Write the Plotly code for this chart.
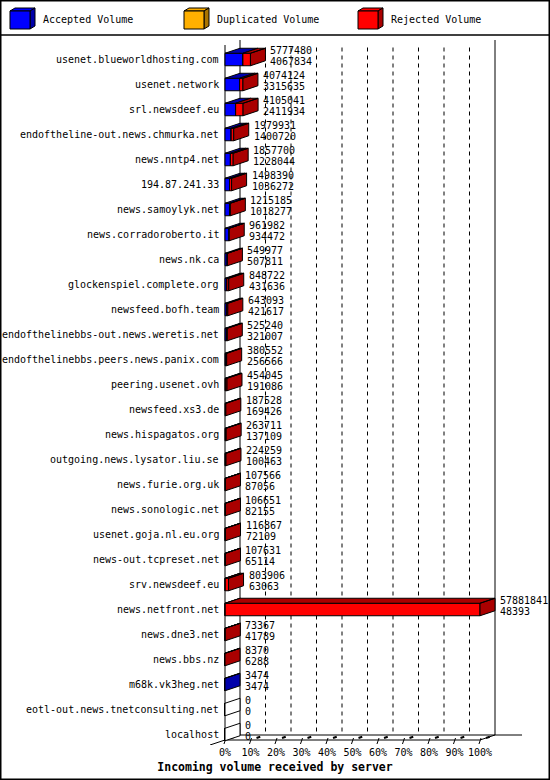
import plotly.graph_objects as go

# ---------------- data ----------------
servers = [
    "usenet.blueworldhosting.com", "usenet.network", "srl.newsdeef.eu",
    "endoftheline-out.news.chmurka.net", "news.nntp4.net", "194.87.241.33",
    "news.samoylyk.net", "news.corradoroberto.it", "news.nk.ca",
    "glockenspiel.complete.org", "newsfeed.bofh.team",
    "endofthelinebbs-out.news.weretis.net", "endofthelinebbs.peers.news.panix.com",
    "peering.usenet.ovh", "newsfeed.xs3.de", "news.hispagatos.org",
    "outgoing.news.lysator.liu.se", "news.furie.org.uk", "news.sonologic.net",
    "usenet.goja.nl.eu.org", "news-out.tcpreset.net", "srv.newsdeef.eu",
    "news.netfront.net", "news.dne3.net", "news.bbs.nz", "m68k.vk3heg.net",
    "eotl-out.news.tnetconsulting.net", "localhost",
]
total_volume = [
    5777480, 4074124, 4105041, 1979931, 1857700, 1498390, 1215185, 961982,
    549977, 848722, 643093, 525240, 380552, 454045, 187528, 263711, 224259,
    107566, 106651, 116867, 107631, 803906, 57881841, 73367, 8370, 3474, 0, 0,
]
accepted_volume = [
    4067834, 3315635, 2411934, 1400720, 1228044, 1036272, 1018277, 934472,
    507811, 431636, 421617, 321007, 256566, 191086, 169426, 137109, 100463,
    87056, 82155, 72109, 65114, 63063, 48393, 41789, 6288, 3474, 0, 0,
]
duplicated_volume = [0, 0, 0, 0, 0, 0, 0, 0, 0, 0, 0, 0, 0, 0,
                     0, 0, 0, 0, 0, 0, 0, 0, 0, 0, 0, 0, 0, 0]
tick_values = [0, 10, 20, 30, 40, 50, 60, 70, 80, 90, 100]
tick_labels = ["0%", "10%", "20%", "30%", "40%", "50%", "60%", "70%", "80%", "90%", "100%"]
series_names = ["Accepted Volume", "Duplicated Volume", "Rejected Volume"]
title_text = "Incoming volume received by server"

# ---------------- styles ----------------
FRONT = {"acc": "#0000ff", "dup": "#ffb000", "rej": "#ff0000"}
DARK = {"acc": "#0000aa", "dup": "#aa7400", "rej": "#aa0000"}
FONT = "DejaVu Sans Mono"

W, H = 550, 780
ML, MR, MT, MB = 200, 20, 40, 35
PX_PER_PCT = 2.55          # pixels per percent on the front face
ZERO_PX = 225              # pixel of 0 %
ROW_PX = 25                # pixels per row
ROW0_PX = 59.5             # pixel centre of first row
x_range = [(ML - ZERO_PX) / PX_PER_PCT, (W - MR - ZERO_PX) / PX_PER_PCT]
y_range = [(H - MB - ROW0_PX) / ROW_PX, (MT - ROW0_PX) / ROW_PX]

DX = 15 / PX_PER_PCT       # 3D depth, horizontal (in %)
DY = 5 / ROW_PX            # 3D depth, vertical (in rows)
HB = 0.25                  # half bar height (rows)

n = len(servers)
rows = list(range(n))
vmax = max(total_volume)
rejected_volume = [t - a - d for t, a, d in zip(total_volume, accepted_volume, duplicated_volume)]
acc_pct = [v / vmax * 100 for v in accepted_volume]
dup_pct = [v / vmax * 100 for v in duplicated_volume]
rej_pct = [v / vmax * 100 for v in rejected_volume]
tot_pct = [v / vmax * 100 for v in total_volume]

fig = go.Figure()

# front faces (bars)
fig.add_trace(go.Bar(y=rows, x=acc_pct, base=[0] * n, orientation="h", width=2 * HB,
                     name=series_names[0], marker=dict(color=FRONT["acc"], line=dict(color="black", width=1)),
                     hoverinfo="skip"))
fig.add_trace(go.Bar(y=rows, x=dup_pct, base=acc_pct, orientation="h", width=2 * HB,
                     name=series_names[1], marker=dict(color=FRONT["dup"], line=dict(color="black", width=1)),
                     hoverinfo="skip"))
fig.add_trace(go.Bar(y=rows, x=rej_pct, base=[a + d for a, d in zip(acc_pct, dup_pct)], orientation="h",
                     width=2 * HB, name=series_names[2],
                     marker=dict(color=FRONT["rej"], line=dict(color="black", width=1)),
                     hoverinfo="skip"))

# 3D top and side faces, built from the same values
polys = {"acc": ([], []), "dup": ([], []), "rej": ([], []), "none": ([], [])}
for i in rows:
    segs = [("acc", 0, acc_pct[i]),
            ("dup", acc_pct[i], acc_pct[i] + dup_pct[i]),
            ("rej", acc_pct[i] + dup_pct[i], tot_pct[i])]
    last = "none"
    for key, x0, x1 in segs:
        if x1 - x0 > 0:
            last = key
            xs, ys = polys[key]
            xs += [x0, x1, x1 + DX, x0 + DX, x0, None]
            ys += [i - HB, i - HB, i - HB - DY, i - HB - DY, i - HB, None]
    t = tot_pct[i]
    xs, ys = polys[last]
    xs += [t, t + DX, t + DX, t, t, None]
    ys += [i - HB, i - HB - DY, i + HB - DY, i + HB, i - HB, None]

for key, (xs, ys) in polys.items():
    if not xs:
        continue
    fig.add_trace(go.Scatter(x=xs, y=ys, mode="lines", fill="toself",
                             fillcolor=DARK.get(key, "white"),
                             line=dict(color="black", width=1),
                             hoverinfo="skip", showlegend=False))

annotations = []
# category labels
for i, s in enumerate(servers):
    annotations.append(dict(x=0, y=i, xref="x", yref="y", text=s, showarrow=False,
                            xanchor="right", yanchor="middle", xshift=-4,
                            font=dict(family=FONT, size=10, color="black")))
# value labels
for i in rows:
    annotations.append(dict(x=tot_pct[i], y=i, xref="x", yref="y", text=str(total_volume[i]),
                            showarrow=False, xanchor="left", yanchor="middle",
                            xshift=DX * PX_PER_PCT + 3, yshift=9.5,
                            font=dict(family=FONT, size=10, color="black")))
    annotations.append(dict(x=tot_pct[i], y=i, xref="x", yref="y", text=str(accepted_volume[i]),
                            showarrow=False, xanchor="left", yanchor="middle",
                            xshift=DX * PX_PER_PCT + 3, yshift=-1.5,
                            font=dict(family=FONT, size=10, color="black")))

# ---------------- axes frame (3D box) ----------------
shapes = []
top_back = y_range[1]
floor_back = (735 - ROW0_PX) / ROW_PX
floor_front = floor_back + DY
bottom = y_range[0]


def seg(x0, y0, x1, y1, dash="solid", width=1, layer="below"):
    shapes.append(dict(type="line", xref="x", yref="y", x0=x0, y0=y0, x1=x1, y1=y1,
                       line=dict(color="black", width=width, dash=dash), layer=layer))


for p in tick_values[1:-1]:
    seg(p + DX, top_back + 0.3, p + DX, floor_back, dash="4px,4px")
seg(100 + DX, top_back, 100 + DX, floor_back)            # right wall
seg(DX, top_back, DX, floor_back)                        # back left wall
seg(0, top_back + DY, 0, floor_front)                    # front left axis
seg(DX, floor_back, 100 + DX + 10.6, floor_back)         # back floor
seg(0, floor_front, 100, floor_front)                    # front floor
seg(100, floor_front, 100 + DX, floor_back)
seg(DX, floor_back, -DX, bottom)                         # left diagonal
for p in tick_values:
    seg(p + 0.4, floor_front - 0.08, p - 0.4, floor_front + 0.16)
    seg(p + DX * 0.65, floor_back + DY * 0.35, p + DX * 0.4, floor_back + DY * 0.6, width=2)

# ---------------- legend (3D cubes) ----------------
def px2paper(px, py):
    return (px - ML) / (W - ML - MR), (H - MB - py) / (H - MT - MB)


def paper_path(points):
    pts = [px2paper(a, b) for a, b in points]
    return "M " + " L ".join(f"{a:.5f},{b:.5f}" for a, b in pts) + " Z"


legend_x = [10, 184, 358]
for lx, key, name in zip(legend_x, ["acc", "dup", "rej"], series_names):
    front = [(lx, 11), (lx + 20, 11), (lx + 20, 29), (lx, 29)]
    top = [(lx, 11), (lx + 20, 11), (lx + 25, 8), (lx + 5, 8)]
    side = [(lx + 20, 11), (lx + 25, 8), (lx + 25, 26), (lx + 20, 29)]
    for pts, col in [(top, FRONT[key]), (side, DARK[key]), (front, FRONT[key])]:
        shapes.append(dict(type="path", xref="paper", yref="paper", path=paper_path(pts),
                           fillcolor=col, line=dict(color="black", width=1), layer="above"))
    tx, ty = px2paper(lx + 30.5, 20)
    annotations.append(dict(x=tx, y=ty, xref="paper", yref="paper", text=name, showarrow=False,
                            xanchor="left", yanchor="middle",
                            font=dict(family=FONT, size=10, color="black")))

# separator line and outer frame
a0, b0 = px2paper(0, 35)
a1, _ = px2paper(W, 35)
shapes.append(dict(type="line", xref="paper", yref="paper", x0=a0, y0=b0, x1=a1, y1=b0,
                   line=dict(color="black", width=1.5)))
f0x, f0y = px2paper(0.75, 0.75)
f1x, f1y = px2paper(W - 0.75, H - 0.75)
shapes.append(dict(type="rect", xref="paper", yref="paper", x0=f0x, y0=f1y, x1=f1x, y1=f0y,
                   line=dict(color="black", width=1.5)))

fig.update_layout(
    width=W, height=H,
    margin=dict(l=ML, r=MR, t=MT, b=MB, pad=0),
    paper_bgcolor="white", plot_bgcolor="white",
    barmode="overlay", bargap=0,
    showlegend=False,
    shapes=shapes, annotations=annotations,
    title=dict(text=f"<b>{title_text}</b>", x=0.5, xref="container", xanchor="center",
               y=(H - 767) / H, yref="container", yanchor="middle",
               font=dict(family=FONT, size=11.5, color="black")),
    xaxis=dict(range=x_range, tickvals=tick_values, ticktext=tick_labels, showgrid=False,
               zeroline=False, showline=False, ticks="", fixedrange=True,
               tickfont=dict(family=FONT, size=10, color="black")),
    yaxis=dict(range=y_range, showticklabels=False, showgrid=False, zeroline=False,
               showline=False, ticks="", fixedrange=True),
)

fig.write_html("out.html", config={"displayModeBar": False, "staticPlot": True},
               post_script="document.body.style.margin='0';")
